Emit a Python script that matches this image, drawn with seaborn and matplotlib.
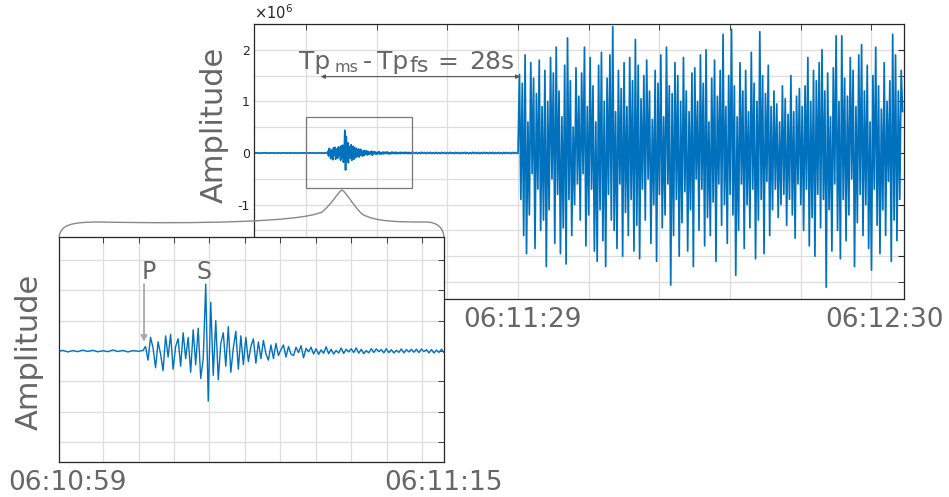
import numpy as np
import matplotlib
matplotlib.use("Agg")
import matplotlib.pyplot as plt
import seaborn as sns
from matplotlib.patches import Rectangle, PathPatch
from matplotlib.path import Path

# amplitude values (x 1e6), seconds relative to 06:11:29
quiet_pre = [0.004, -0.003, 0.006, -0.005, 0.002, -0.006, 0.005, -0.002, 0.007, -0.004,
             0.003, -0.006, 0.004, -0.003, 0.006, -0.005, 0.002, -0.004, 0.006, -0.006,
             0.004, -0.002, 0.005, -0.005, 0.003, -0.004, 0.007, -0.003, 0.002, -0.006,
             0.005, -0.004, 0.003, -0.005, 0.006, -0.002, 0.004, -0.006, 0.003, -0.004,
             0.006, -0.003, 0.005, -0.005, 0.002, -0.004, 0.007, -0.003, 0.004, -0.006,
             0.003, -0.002]
event = [0.004, 0.03, -0.06, 0.09, 0.02, -0.11, 0.06, -0.02, -0.13, 0.1,
         -0.04, 0.11, -0.12, 0.03, 0.08, -0.1, 0.12, -0.05, 0.09, -0.14,
         0.14, -0.09, 0.15, -0.18, -0.05, 0.44, -0.33, 0.32, -0.16, 0.2,
         -0.19, 0.05, 0.12, -0.1, 0.16, -0.14, 0.02, 0.13, -0.12, 0.1,
         -0.09, 0.09, -0.07, 0.03, 0.08, -0.08, 0.06, -0.05, 0.07, -0.02,
         -0.06, 0.04, -0.05, 0.05, -0.03, 0.01, 0.04, -0.04, 0.03, -0.02,
         -0.03, 0.025, -0.01, 0.035, -0.045, 0.018, -0.005, 0.025, -0.02, 0.015,
         -0.022, 0.008, -0.015, 0.028, -0.018, 0.012, -0.02, 0.004, -0.013, 0.02,
         -0.016, 0.012, -0.006, 0.015, -0.01, 0.02, -0.014, 0.011, -0.017, 0.003,
         -0.012, 0.016, -0.01, 0.014, -0.004, 0.01, -0.012, 0.015, -0.011, 0.009,
         -0.013, 0.005, -0.009, 0.014, -0.012, 0.01, -0.006, 0.011, -0.008, 0.012,
         -0.01, 0.013, -0.004, 0.009, -0.012, 0.01, -0.013, 0.006, -0.009, 0.012,
         -0.01]
quiet_post = [0.012, -0.009, 0.01, -0.013, 0.008, -0.011, 0.014, -0.007, 0.009, -0.012,
              0.01, -0.008, 0.013, -0.01, 0.007, -0.012, 0.011, -0.009, 0.008, -0.013,
              0.012, -0.007, 0.01, -0.011, 0.009, -0.01, 0.013, -0.008, 0.007, -0.012,
              0.011, -0.009, 0.01, -0.013, 0.008, -0.007, 0.012, -0.01, 0.009, -0.011,
              0.007, -0.012, 0.013, -0.008, 0.01, -0.009, 0.011, -0.013, 0.008, -0.01,
              0.012, -0.007, 0.009, -0.011, 0.01, -0.008, 0.013, -0.012, 0.007, -0.009,
              0.011, -0.01, 0.008, -0.013, 0.012, -0.009, 0.01, -0.007, 0.009, -0.012,
              0.011, -0.008, 0.01, -0.009]
noise = [0.0, 1.52, -0.9, 1.35, -1.6, 1.9, -1.95, 0.6, -1.2, 1.75,
         -0.4, 1.45, -1.85, 1.15, -0.7, 1.8, -1.5, 0.9, -1.3, 1.6,
         -2.2, 1.0, -1.1, 1.85, -0.5, 1.55, -1.75, 2.05, -0.8, 1.2,
         -1.95, 0.7, -1.45, 1.7, -2.15, 2.23, -0.9, 1.4, -1.6, 0.5,
         -1.0, 1.65, -0.6, 1.1, -1.3, 1.55, -0.4, 2.05, -1.8, 0.9,
         -1.2, 1.85, -0.7, 1.3, -1.9, 0.6, -2.1, 1.7, -1.1, 1.95,
         -1.7, 1.0, -2.2, 1.45, -0.8, 1.9, -1.3, 2.45, -1.5, 0.8,
         -1.85, 1.6, -0.6, 1.25, -2.0, 1.75, -1.15, 0.9, -1.6, 1.85,
         -0.9, 1.4, -1.9, 2.2, -1.4, 1.7, -2.05, 1.05, -0.7, 1.5,
         -1.3, 1.8, -0.5, 1.2, -1.75, 0.65, -1.0, 1.6, -2.1, 1.35,
         -0.8, 1.9, -1.45, 0.7, -1.2, 2.05, -0.6, 1.3, -2.56, 1.15,
         -1.6, 1.75, -0.9, 1.5, -2.0, 1.0, -1.35, 1.85, -0.75, 1.2,
         -1.9, 0.8, -1.1, 1.55, -2.2, 1.65, -0.5, 1.0, -1.5, 1.9,
         -0.7, 1.35, -1.8, 2.0, -1.25, 0.6, -1.6, 1.45, -0.95, 1.8,
         -2.1, 1.1, -0.6, 1.6, -1.4, 2.3, -1.0, 0.9, -1.75, 1.5,
         -0.8, 2.4, -1.2, 1.3, -2.37, 0.7, -1.5, 1.75, -0.6, 1.2,
         -1.85, 1.6, -1.0, 0.8, -1.45, 1.95, -0.7, 1.35, -2.05, 1.0,
         -1.3, 2.35, -0.9, 1.5, -1.95, 1.15, -0.55, 1.7, -1.6, 0.9,
         -1.1, 1.2, -0.7, 0.95, -1.25, 0.6, -1.0, 1.3, -0.8, 1.05,
         -1.4, 0.75, -0.9, 1.5, -1.2, 0.8, -1.65, 1.1, -0.6, 1.25,
         -1.0, 0.9, -1.5, 1.3, -0.7, 1.85, -1.8, 1.0, -1.25, 1.6,
         -2.0, 1.4, -0.8, 1.75, -1.45, 2.0, -0.9, 1.2, -2.6, 1.55,
         -1.1, 0.7, -1.9, 1.65, -0.6, 2.27, -1.5, 1.0, -2.05, 2.27,
         -0.9, 1.45, -1.7, 1.1, -1.2, 1.85, -0.5, 1.6, -2.2, 0.9,
         -1.35, 1.9, -0.8, 2.1, -1.6, 1.2, -1.0, 1.7, -1.85, 0.6,
         -2.27, 1.5, -0.7, 2.05, -1.4, 1.3, -1.95, 0.85, -1.1, 1.75,
         -1.6, 1.0, -0.55, 1.4, -2.1, 2.3, -1.3, 1.9, -1.7, 1.2,
         -0.9, 1.6, 0.8]

# sample times of each segment (start, step)
t_pre = -37.4 + 0.2 * np.arange(len(quiet_pre))
t_event = -27.0 + 0.1 * np.arange(len(event))
t_post = -14.8 + 0.2 * np.arange(len(quiet_post))
t_noise = 0.0 + 0.2 * np.arange(len(noise))

t = np.concatenate([t_pre, t_event, t_post, t_noise])
amp = np.concatenate([quiet_pre, event, quiet_post, noise])

main_labels = ["06:11:29", "06:12:30"]
inset_labels = ["06:10:59", "06:11:15"]

BLUE = "#0072BD"
GRAY = "#666666"
DARK = "#262626"
GRID = "#dddddd"

sns.set_style("white")
plt.rcParams['font.family'] = ['DejaVu Sans']

W, H = 949, 497
fig = plt.figure(figsize=(W / 100, H / 100), dpi=100)


def fx(x):
    return x / W


def fy(y):
    return 1 - y / H


def style_axes(a):
    for s in a.spines.values():
        s.set_color(DARK)
        s.set_linewidth(0.9)
    a.tick_params(which='both', direction='in', top=True, right=True, color=DARK)
    a.set_axisbelow(True)


# main panel
ax = fig.add_axes([fx(254), fy(299), fx(650), 275 / H])
sns.lineplot(x=t, y=amp, ax=ax, color=BLUE, linewidth=1.25, estimator=None, sort=False)
ax.set_xlim(-37.35, 54.6)
ax.set_ylim(-2.83, 2.5)
style_axes(ax)
ax.set_yticks([-2, -1, 0, 1, 2])
ax.set_yticklabels(['-2', '-1', '0', '1', '2'], fontsize=9, color=DARK)
ax.set_yticks(np.arange(-2.5, 2.51, 0.5), minor=True)
ax.set_xticks([0.7, 51.9])
ax.set_xticklabels(main_labels, fontsize=19, color=GRAY)
ax.set_xticks(np.arange(-30, 51, 10), minor=True)
ax.tick_params(axis='x', which='major', length=0, pad=6)
ax.tick_params(axis='x', which='minor', length=4)
ax.tick_params(axis='y', which='both', length=4, pad=3)
ax.xaxis.grid(True, which='minor', color=GRID, lw=0.9)
ax.yaxis.grid(True, which='both', color=GRID, lw=0.9)
ax.set_xlabel('')
ax.set_ylabel('')

ax.add_patch(Rectangle((-30, -0.68), 15, 1.38, fill=False, ec='#777777', lw=0.9, zorder=3))
ax.annotate('', xy=(-27.9, 1.48), xytext=(0.3, 1.48),
            arrowprops=dict(arrowstyle='<|-|>', color='#555555', lw=0.8,
                            mutation_scale=6, shrinkA=0, shrinkB=0))

fig.text(fx(254), fy(13), r'$\times10^{6}$', fontsize=10.5, color=DARK, va='center')
fig.text(fx(214), fy(125), 'Amplitude', fontsize=22, color=GRAY, rotation=90,
         ha='center', va='center')

# Tp ms - Tp fs = 28s
fig.text(fx(299), fy(69), 'Tp', fontsize=18, color=GRAY, va='baseline')
fig.text(fx(335), fy(72), 'ms', fontsize=11.5, color=GRAY, va='baseline')
fig.text(fx(363), fy(69), '-', fontsize=18, color=GRAY, va='baseline')
fig.text(fx(377), fy(69), 'Tp', fontsize=18, color=GRAY, va='baseline')
fig.text(fx(409), fy(72), 'fs', fontsize=16, color=GRAY, va='baseline')
fig.text(fx(437), fy(69), '=', fontsize=18, color=GRAY, va='baseline')
fig.text(fx(469), fy(69), '28s', fontsize=18, color=GRAY, va='baseline')

# zoomed panel
ax2 = fig.add_axes([fx(59), fy(462), fx(385), 225 / H])
ax2.set_facecolor('white')
sns.lineplot(x=t, y=amp, ax=ax2, color=BLUE, linewidth=1.0, estimator=None, sort=False)
ax2.set_xlim(-30.35, -15.0)
ax2.set_ylim(-0.73, 0.75)
style_axes(ax2)
ax2.set_yticks([])
ax2.set_yticks(np.arange(-0.6, 0.61, 0.2), minor=True)
ax2.set_xticks([-30.0, -15.0])
ax2.set_xticklabels(inset_labels, fontsize=19, color=GRAY)
ax2.set_xticks(-30.0 + 1.412 * np.arange(11), minor=True)
ax2.tick_params(axis='x', which='major', length=0, pad=6)
ax2.tick_params(axis='both', which='minor', length=4)
ax2.xaxis.grid(True, which='minor', color=GRID, lw=0.9)
ax2.yaxis.grid(True, which='minor', color=GRID, lw=0.9)
ax2.set_xlabel('')
ax2.set_ylabel('')

ax2.text(-26.76, 0.52, 'P', fontsize=17, color=GRAY, ha='center', va='center')
ax2.text(-24.57, 0.52, 'S', fontsize=17, color=GRAY, ha='center', va='center')
ax2.annotate('', xy=(-26.96, 0.06), xytext=(-26.96, 0.44),
             arrowprops=dict(arrowstyle='-|>', color='#aaaaaa', lw=1.3,
                             mutation_scale=9, shrinkA=0, shrinkB=0))

fig.text(fx(29), fy(352), 'Amplitude', fontsize=22, color=GRAY, rotation=90,
         ha='center', va='center')

# brace joining the box to the zoomed panel
pts = [(59, 237), (61, 225), (70, 222), (100, 222),
       (200, 224), (300, 222), (322, 212),
       (332, 204), (338, 192), (342, 190),
       (346, 192), (352, 204), (362, 214),
       (375, 222), (400, 222), (425, 222),
       (438, 222), (443, 228), (444, 237)]
codes = [Path.MOVETO] + [Path.CURVE4] * (len(pts) - 1)
brace = Path([(fx(x), fy(y)) for x, y in pts], codes)
fig.add_artist(PathPatch(brace, fill=False, ec='#888888', lw=1.0,
                         transform=fig.transFigure, zorder=5))

fig.savefig('out.png', dpi=100)
